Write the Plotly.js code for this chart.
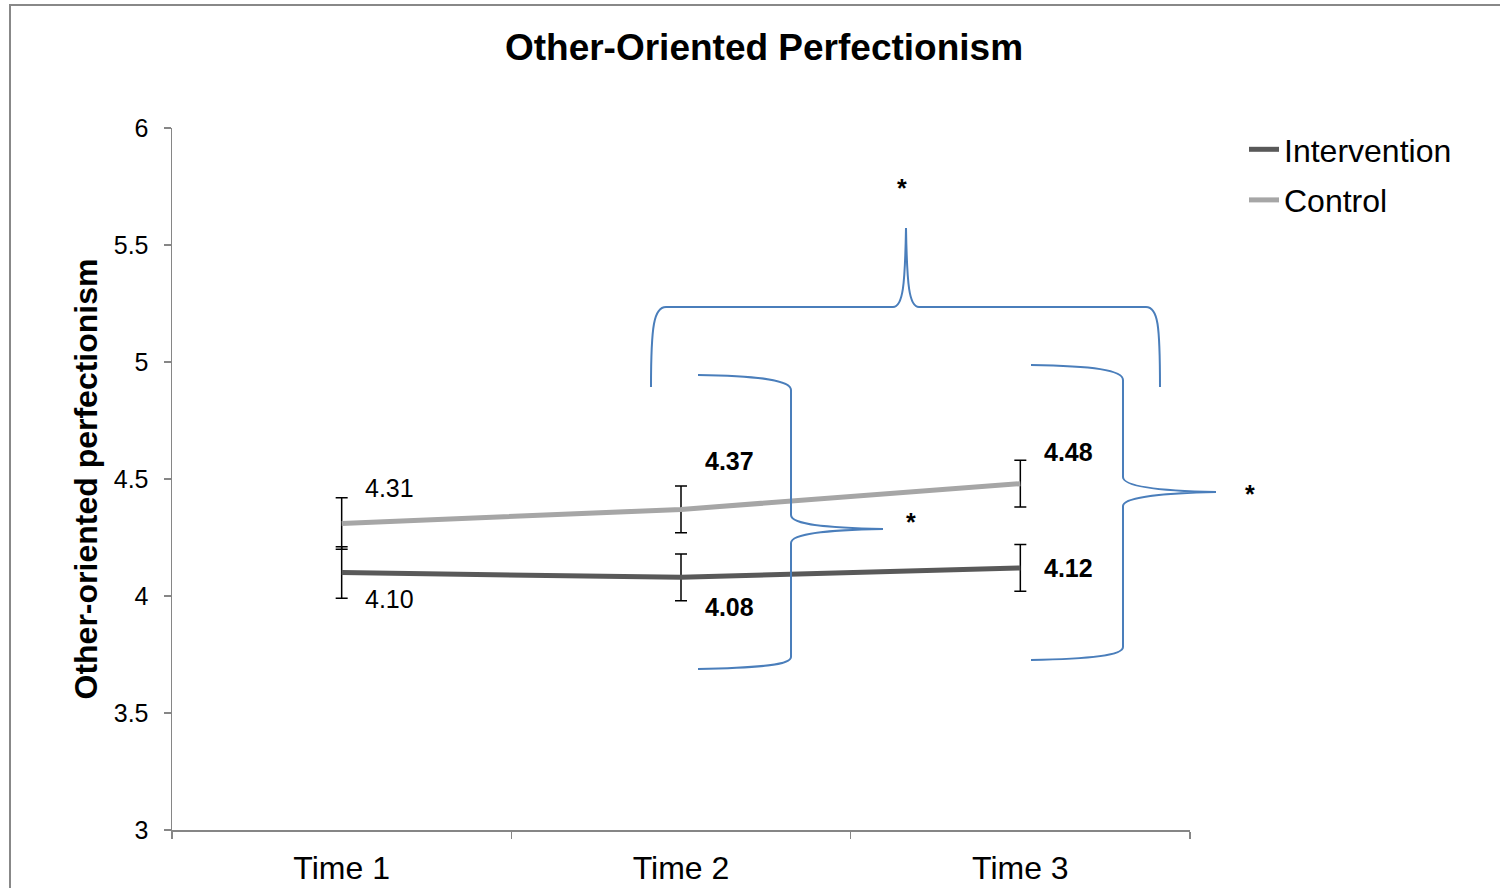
<!DOCTYPE html>
<html>
<head>
<meta charset="utf-8">
<script src="https://cdn.plot.ly/plotly-3.0.1.min.js"></script>
<style>html,body{margin:0;padding:0;background:#fff;}#chart{width:1500px;height:888px;}</style>
</head>
<body>
<div id="chart"></div>
<script>
// ---- data ----
const timeLabels = ["Time 1", "Time 2", "Time 3"];
const interventionMeans = [4.10, 4.08, 4.12];
const interventionErr = [0.11, 0.10, 0.10];
const controlMeans = [4.31, 4.37, 4.48];
const controlErr = [0.11, 0.10, 0.10];
const labelBold = [false, true, true];

// ---- layout geometry (pixels) ----
const W = 1500, H = 888;
const M = {l: 172, r: 310, t: 128, b: 58};
const PW = W - M.l - M.r, PH = H - M.t - M.b;
function px(x){ return (x - M.l) / PW; }
function py(y){ return (H - M.b - y) / PH; }
function path(cmds){
  return cmds.map(c => c[0] + ' ' + c.slice(1).reduce((a, v, i) => {
    if (i % 2 === 0) a.push(px(v).toFixed(5)); else a[a.length-1] += ',' + py(v).toFixed(5);
    return a;
  }, []).join(' ')).join(' ');
}

const braceColor = '#4A7EBB';
const braces = [
  [['M',651,387],['C',651,325,654,307,666,307],['L',893,307],['C',903,307,905,285,906,228],
   ['C',907,285,909,307,919,307],['L',1146,307],['C',1158,307,1160,325,1160,387]],
  [['M',698,375],['C',760,376,791,380,791,390],['L',791,515],['C',791,525,830,528,883,529],
   ['C',830,530,791,533,791,543],['L',791,657],['C',791,665,760,668,698,669]],
  [['M',1031,365],['C',1093,366,1123,370,1123,380],['L',1123,477],['C',1123,487,1165,491,1216,492],
   ['C',1165,493,1123,497,1123,506],['L',1123,647],['C',1123,655,1093,659,1031,660]]
];
const stars = [[909,172],[918,522],[1257,494]];

const traces = [
  {
    x: timeLabels, y: interventionMeans, name: 'Intervention', type: 'scatter', mode: 'lines',
    legendgroup: 'a',
    line: {color: '#595959', width: 5},
    error_y: {type: 'data', array: interventionErr, visible: true, color: '#000', thickness: 1.5, width: 6}
  },
  {
    x: timeLabels, y: controlMeans, name: 'Control', type: 'scatter', mode: 'lines',
    legendgroup: 'b',
    line: {color: '#A6A6A6', width: 5},
    error_y: {type: 'data', array: controlErr, visible: true, color: '#000', thickness: 1.5, width: 6}
  }
];

const annotations = [];
const ctlShift = [[48, 35], [48, 48], [48, 32]];
const intShift = [[48, -26], [48, -30], [48, 0]];
for (let i = 0; i < timeLabels.length; i++) {
  const fmt = v => labelBold[i] ? '<b>' + v.toFixed(2) + '</b>' : v.toFixed(2);
  annotations.push({x: timeLabels[i], y: controlMeans[i], xref: 'x', yref: 'y', text: fmt(controlMeans[i]),
    showarrow: false, xshift: ctlShift[i][0], yshift: ctlShift[i][1], font: {size: 25, color: '#000'}});
  annotations.push({x: timeLabels[i], y: interventionMeans[i], xref: 'x', yref: 'y', text: fmt(interventionMeans[i]),
    showarrow: false, xshift: intShift[i][0], yshift: intShift[i][1], font: {size: 25, color: '#000'}});
}
stars.forEach(s => annotations.push({x: px(s[0]), y: py(s[1]), xref: 'paper', yref: 'paper', text: '<b>*</b>',
  showarrow: false, font: {size: 25, color: '#000'}}));

const shapes = braces.map(b => ({type: 'path', xref: 'paper', yref: 'paper', path: path(b),
  line: {color: braceColor, width: 2}}));
shapes.push({type: 'rect', xref: 'paper', yref: 'paper', x0: px(10), x1: px(1520), y0: py(900), y1: py(5),
  line: {color: '#888888', width: 2}, layer: 'below'});

const layout = {
  width: W, height: H,
  margin: M,
  paper_bgcolor: '#fff', plot_bgcolor: '#fff',
  font: {family: 'Liberation Sans, Arial, sans-serif', color: '#000'},
  title: {text: '<b>Other-Oriented Perfectionism</b>', font: {size: 37, color: '#000'},
    xref: 'container', x: 764 / W, xanchor: 'center', yref: 'container', y: 1 - 47 / H, yanchor: 'middle'},
  xaxis: {
    type: 'category', range: [-0.5, 2.5], tickson: 'boundaries', ticks: 'outside', ticklen: 7,
    tickcolor: '#868686', tickwidth: 1.5, showline: true, linecolor: '#868686', linewidth: 1.5,
    showgrid: false, zeroline: false, tickfont: {size: 32, color: '#000'}, ticklabelstandoff: 9,
    fixedrange: true
  },
  yaxis: {
    range: [3, 6], dtick: 0.5, ticks: 'outside', ticklen: 7, tickcolor: '#868686', tickwidth: 1.5,
    showline: true, linecolor: '#868686', linewidth: 1.5, showgrid: false, zeroline: false,
    tickfont: {size: 25, color: '#000'}, ticklabelstandoff: 10,
    title: {text: '<b>Other-oriented perfectionism</b>', font: {size: 32, color: '#000'}, standoff: 6},
    automargin: false
  },
  legend: {x: px(1244), xanchor: 'left', y: py(122), yanchor: 'top', font: {size: 32, color: '#000'},
    bgcolor: 'rgba(0,0,0,0)', tracegroupgap: 6},
  showlegend: true,
  annotations: annotations,
  shapes: shapes
};

Plotly.newPlot('chart', traces, layout, {displayModeBar: false, staticPlot: true});
</script>
</body>
</html>
